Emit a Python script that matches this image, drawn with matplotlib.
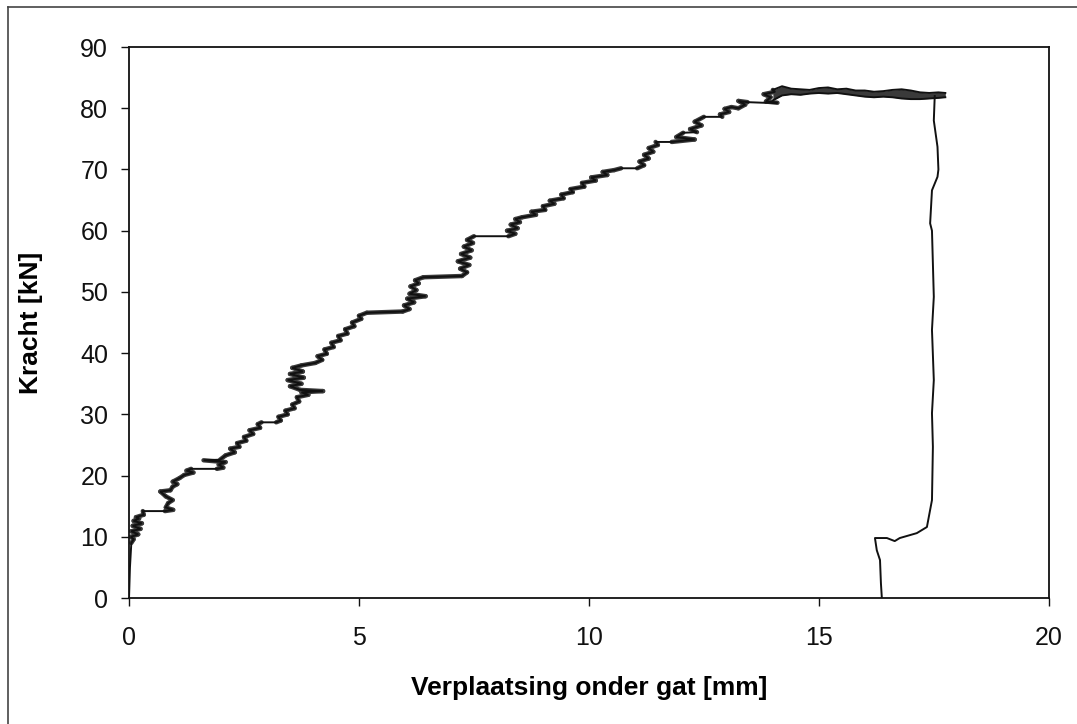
import matplotlib
matplotlib.use("Agg")
import matplotlib.pyplot as plt
from matplotlib.lines import Line2D
from matplotlib.collections import LineCollection

plt.rcParams['font.family'] = ['Liberation Sans', 'DejaVu Sans']

# loading branch (verplaatsing [mm], kracht [kN])
rise_x = [0.00, 0.02, 0.05, 0.10, 0.04,
          0.20, 0.05, 0.25, 0.08, 0.28, 0.10, 0.22, 0.15, 0.32, 0.30,
          0.78, 0.96, 0.80, 0.85, 0.95, 0.80, 0.68, 0.90, 0.95, 1.05, 0.95, 1.10, 1.20, 1.40, 1.25, 1.35,
          1.91, 2.05, 1.95, 2.10, 1.62, 1.98, 2.10, 2.30, 2.20, 2.40, 2.35, 2.55, 2.50, 2.70, 2.62, 2.85, 2.80, 2.88,
          3.20, 3.30, 3.25, 3.45, 3.40, 3.60, 3.55, 3.70, 3.65, 3.90, 3.75, 4.22, 3.72,
          3.50, 3.75, 3.45, 3.80, 3.50, 3.78, 3.55, 3.75, 4.05,
          4.20, 4.10, 4.30, 4.25, 4.45, 4.40, 4.60, 4.55, 4.75, 4.70, 4.90, 4.85, 5.05, 5.00, 5.17,
          5.95, 6.10, 5.98, 6.20, 6.05, 6.45, 6.10, 6.25, 6.12, 6.30, 6.22, 6.40,
          7.24, 7.35, 7.20, 7.40, 7.15, 7.42, 7.22, 7.45, 7.28, 7.48, 7.35, 7.50,
          8.25, 8.40, 8.22, 8.45, 8.30, 8.50, 8.40, 8.55,
          8.85, 8.75, 9.05, 9.00, 9.25, 9.15, 9.45, 9.40, 9.65, 9.60, 9.90, 9.85, 10.15, 10.05, 10.40, 10.30, 10.55, 10.70,
          11.05, 11.20, 11.10, 11.30, 11.20, 11.40, 11.30, 11.50, 11.45,
          11.80, 12.30, 11.90, 12.05, 12.35, 12.20, 12.45, 12.30, 12.50,
          12.90, 12.85, 13.05, 12.95, 13.10, 13.25, 13.40, 13.25, 13.45,
          13.80, 14.10, 13.85, 13.95, 13.80, 14.05, 14.00]
rise_y = [0.0, 5.0, 9.0, 9.6, 10.0,
          10.4, 10.9, 11.3, 11.8, 12.2, 12.6, 13.0, 13.2, 13.6, 14.2,
          14.2, 14.4, 14.8, 15.5, 16.0, 16.6, 17.4, 17.6, 18.2, 18.6, 19.0, 19.6, 20.1, 20.5, 20.8, 21.1,
          21.1, 21.3, 21.8, 22.2, 22.5, 22.6, 23.3, 23.8, 24.4, 24.7, 25.3, 25.7, 26.3, 26.8, 27.4, 27.8, 28.4, 28.7,
          28.7, 29.0, 29.6, 30.0, 30.6, 31.0, 31.6, 32.1, 32.8, 33.2, 33.6, 33.8, 34.0,
          34.6, 35.0, 35.6, 36.0, 36.6, 37.0, 37.6, 38.0, 38.4,
          38.9, 39.5, 39.9, 40.6, 41.0, 41.7, 42.1, 42.8, 43.2, 43.9, 44.4, 45.0, 45.6, 46.1, 46.6,
          46.8, 47.2, 47.8, 48.3, 48.9, 49.3, 49.7, 50.3, 50.9, 51.4, 51.9, 52.4,
          52.6, 53.2, 53.8, 54.4, 55.0, 55.6, 56.2, 56.8, 57.4, 58.0, 58.5, 59.1,
          59.1, 59.5, 60.0, 60.4, 61.0, 61.4, 61.9, 62.2,
          62.6, 63.1, 63.4, 64.0, 64.4, 64.9, 65.3, 65.9, 66.3, 66.8, 67.2, 67.8, 68.2, 68.7, 69.1, 69.6, 69.9, 70.2,
          70.2, 70.7, 71.3, 71.8, 72.4, 72.9, 73.5, 74.0, 74.5,
          74.5, 74.9, 75.3, 76.0, 76.1, 76.6, 77.2, 77.8, 78.6,
          78.6, 79.0, 79.4, 79.9, 80.2, 80.0, 80.6, 81.2, 81.0,
          80.9, 80.9, 81.1, 81.8, 82.3, 82.7, 83.0]

# plateau band (upper and lower envelope of the oscillating signal)
plateau_x = [14.0, 14.2, 14.4, 14.6, 14.8, 15.0, 15.2, 15.4, 15.6, 15.8,
             16.0, 16.2, 16.4, 16.6, 16.8, 17.0, 17.2, 17.4, 17.6, 17.75]
plateau_hi = [83.0, 83.6, 83.2, 83.1, 83.0, 83.3, 83.4, 83.1, 83.2, 82.9,
              82.9, 82.7, 82.8, 83.0, 83.1, 82.9, 82.6, 82.5, 82.6, 82.5]
plateau_lo = [81.3, 82.1, 82.3, 82.2, 82.4, 82.5, 82.4, 82.5, 82.3, 82.1,
              81.9, 81.8, 81.9, 81.8, 81.6, 81.5, 81.5, 81.6, 81.7, 81.8]

# unloading branch after failure
drop_x = [17.52, 17.50, 17.58, 17.60, 17.58, 17.46, 17.42, 17.46, 17.50, 17.46,
          17.50, 17.46, 17.48, 17.46, 17.35, 17.13, 16.76, 16.65, 16.48, 16.22,
          16.26, 16.33, 16.35, 16.37]
drop_y = [82.0, 78.0, 73.7, 70.0, 68.8, 66.6, 61.2, 60.0, 49.2, 43.8,
          35.6, 30.2, 24.7, 16.0, 11.6, 10.6, 9.8, 9.3, 9.8, 9.8,
          7.8, 6.2, 2.4, 0.0]

x_ticks = [0, 5, 10, 15, 20]
y_ticks = [0, 10, 20, 30, 40, 50, 60, 70, 80, 90]

fig = plt.figure(figsize=(10.77, 7.24), dpi=100, facecolor='white')
ax = fig.add_axes([0.1198, 0.174, 0.854, 0.761])

ink = '#111111'

# the jittery parts of the scan look like dark smeared bands
smear = []
for i in range(len(rise_x) - 1):
    dy = rise_y[i + 1] - rise_y[i]
    if 0.15 < abs(dy) < 1.0:
        smear.append([(rise_x[i], rise_y[i]), (rise_x[i + 1], rise_y[i + 1])])
ax.add_collection(LineCollection(smear, colors='#3a3a3a', linewidths=3.2, capstyle='round'))

ax.plot(rise_x, rise_y, color=ink, lw=1.4, solid_joinstyle='miter')
ax.fill_between(plateau_x, plateau_lo, plateau_hi, color='#3a3a3a', lw=0)
ax.plot(plateau_x, plateau_hi, color=ink, lw=1.4)
ax.plot(plateau_x, plateau_lo, color=ink, lw=1.4)
ax.plot(drop_x, drop_y, color=ink, lw=1.4)

ax.set_xlim(0, 20)
ax.set_ylim(0, 90)
ax.set_xticks(x_ticks)
ax.set_yticks(y_ticks)
ax.tick_params(axis='both', direction='out', length=6, width=1, colors='#111111', labelsize=18)
ax.tick_params(axis='x', pad=14)
ax.tick_params(axis='y', pad=9)
for s in ax.spines.values():
    s.set_linewidth(1.3)
    s.set_color('#111111')

ax.set_xlabel('Verplaatsing onder gat [mm]', fontsize=19, fontweight='bold')
ax.set_ylabel('Kracht [kN]', fontsize=19, fontweight='bold')
ax.xaxis.set_label_coords(0.5, -0.163)
ax.xaxis.label.set_va('center')
ax.yaxis.set_label_coords(-0.1065, 0.5)
ax.yaxis.label.set_va('center')

# outer chart frame (only left and top edges are inside the scan)
fig.add_artist(Line2D([8 / 1077, 8 / 1077], [0, 1 - 7 / 724], color='#444444', lw=1.2))
fig.add_artist(Line2D([8 / 1077, 1], [1 - 7 / 724, 1 - 7 / 724], color='#444444', lw=1.2))

fig.savefig('out.png', dpi=100, facecolor='white')
